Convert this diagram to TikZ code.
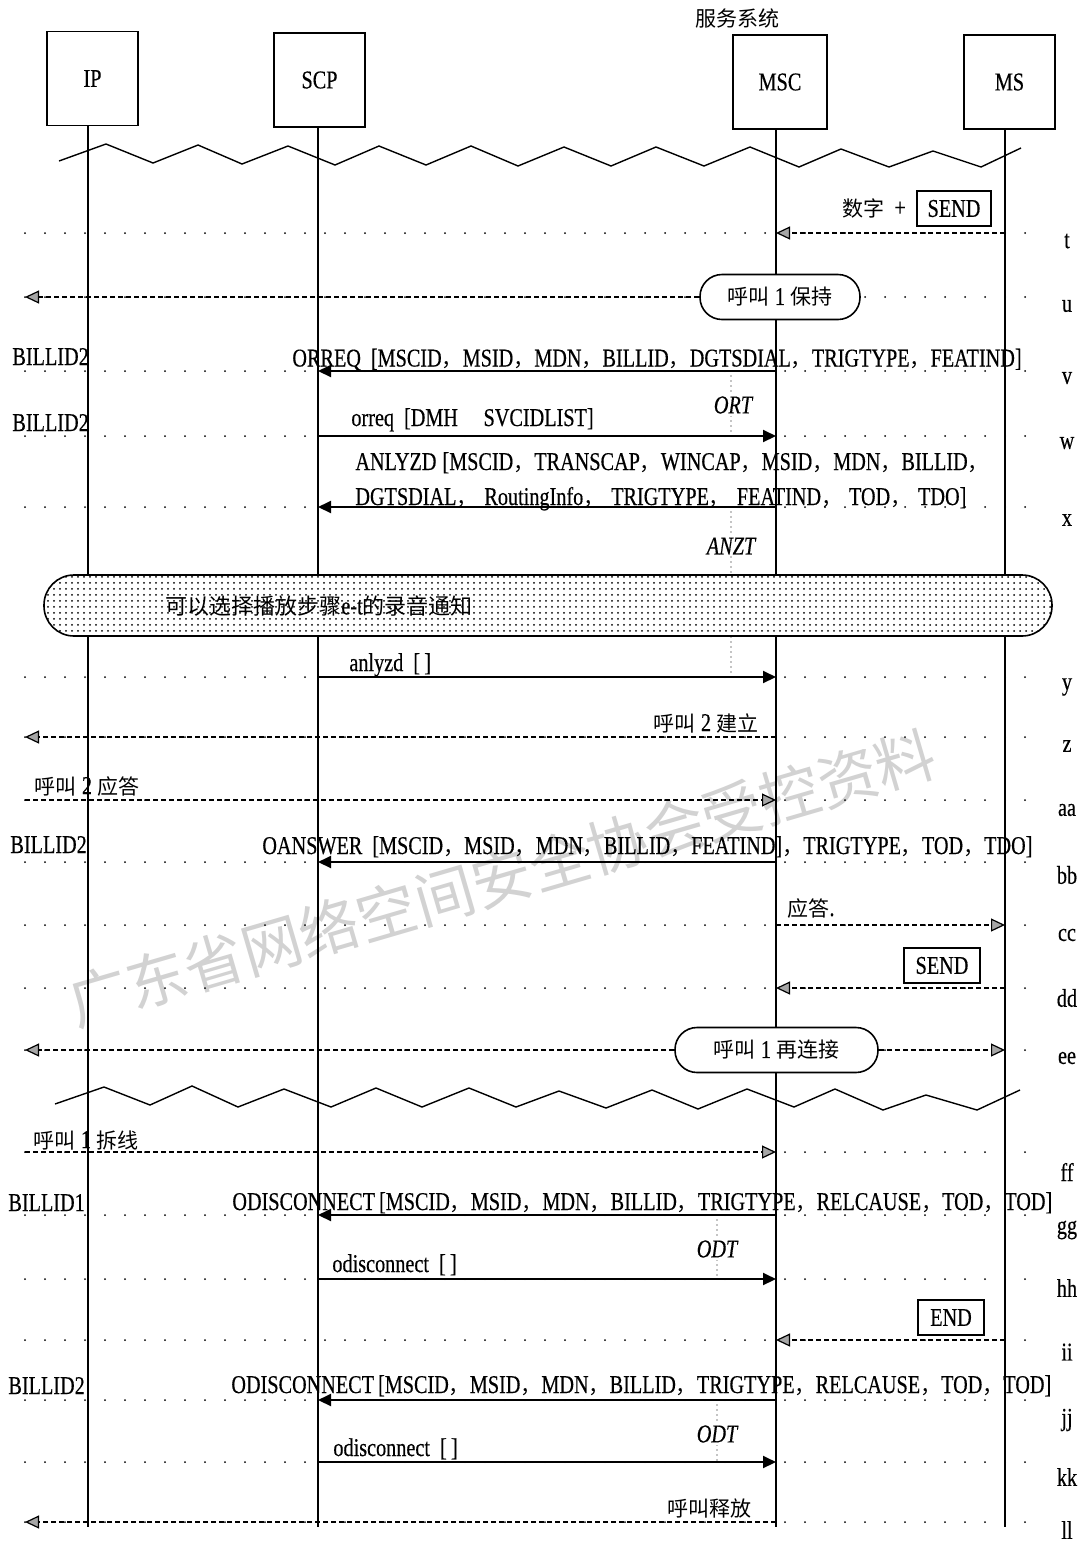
\documentclass[tikz,border=0pt]{standalone}
\usepackage{fontspec}
\setmainfont{Liberation Serif}[FakeStretch=0.79, FakeBold=0.4]
\newfontfamily\cjkfont{Noto Sans CJK SC}
\usetikzlibrary{arrows.meta,patterns}
\newcommand\zh[1]{{\cjkfont\fontsize{10.5}{12}\selectfont #1}}
\newcommand\cm{{\cjkfont\fontsize{10.5}{12}\selectfont ，}}
\newcommand\ob{\hspace{5pt}[}
\begin{document}
\begin{tikzpicture}[x=0.5pt, y=-0.5pt, font=\fontsize{12.8}{14}\selectfont,
  ent/.style={draw, line width=0.8pt, inner sep=0pt, minimum width=45.5pt, minimum height=47pt},
  life/.style={line width=0.7pt},
  rowdots/.style={line width=1pt, line cap=round, dash pattern=on 0pt off 10pt},
  msg/.style={line width=1pt, -{Triangle[length=6.5pt,width=6pt]}},
  dmsg/.style={line width=0.6pt, dash pattern=on 2.5pt off 1.5pt, -{Triangle[length=7pt,width=6.5pt,fill=gray!70]}},
  timer/.style={line width=0.7pt, line cap=round, dash pattern=on 0pt off 2.5pt},
  tl/.style={font=\fontsize{12.8}{14}\selectfont\itshape, fill=white, inner sep=1pt},
  lbl/.style={anchor=base west, inner sep=0pt},
  rl/.style={inner sep=0pt},
  pill/.style={draw, line width=0.8pt, fill=white, rounded corners=11pt, minimum height=22.5pt, inner sep=0pt},
  kbox/.style={draw, line width=0.8pt, fill=white, inner sep=0pt, minimum height=17.5pt},
  zig/.style={line width=0.7pt, line join=miter}]
\useasboundingbox (0,0) rectangle (1082,1543);
% watermark
\node[rotate=16.3, text=gray!35, font=\cjkfont\fontsize{30}{32}\selectfont] (wm) at (502,878) {广东省网络空间安全协会受控资料};
% coordinates
\coordinate (lIP) at (88,0);
\coordinate (lSCP) at (318,0);
\coordinate (lMSC) at (776,0);
\coordinate (lMS) at (1005,0);
\coordinate (L) at (25,0);
\coordinate (R) at (1035,0);
\coordinate (bot) at (0,1527);
\coordinate (tA) at (731,0);
\coordinate (tB) at (717,0);
% rows
\foreach \rn/\yy/\ly in {t/233/241, u/297/306, v/371/378, w/436/443, x/507/520, y/677/687, z/737/746, aa/800/810, bb/862/875, cc/925/935, dd/988/998, ee/1050/1058, ff/1152/1172, gg/1215/1230, hh/1279/1288, ii/1340/1352, jj/1400/1420, kk/1462/1477, ll/1522/1530}{
  \coordinate (r\rn) at (0,\yy);
  \draw[rowdots] (L |- r\rn) -- (R |- r\rn);
  \node[rl] (lab\rn) at (1067,\ly) {\rn};
}
% entities
\node[ent] (IP) at (92.5,78.5) {IP};
\node[ent] (SCP) at (319.5,80) {SCP};
\node[ent, minimum width=47pt] (MSC) at (780,82) {MSC};
\node[ent] (MS) at (1009.5,82) {MS};
\node (svc) at (737,18) {\zh{服务系统}};
\foreach \e in {IP,SCP,MSC,MS} \draw[life] (l\e |- \e.south) -- (l\e |- bot);
% zigzags
\draw[zig] (59,161) -- (106,144) -- (153,163) -- (198,145) -- (242,164) -- (288,146) -- (335,165) -- (379,146) -- (426,165) -- (471,146) -- (518,166) -- (564,147) -- (611,166) -- (656,147) -- (704,166) -- (750,147) -- (799,167) -- (841,149) -- (889,167) -- (933,151) -- (981,167) -- (1021,148);
\draw[zig] (55,1104) -- (104,1087) -- (150,1105) -- (192,1086) -- (238,1107) -- (284,1089) -- (331,1107) -- (376,1088) -- (422,1107) -- (469,1088) -- (516,1107) -- (559,1091) -- (606,1108) -- (652,1090) -- (698,1109) -- (747,1089) -- (794,1107) -- (835,1089) -- (883,1110) -- (926,1095) -- (977,1110) -- (1020,1090);
% timers
\draw[timer] (tA |- rv) -- (tA |- rw);
\node[tl] (ort) at (733,405) {ORT};
\draw[timer] (tA |- rx) -- (tA |- ry);
\node[tl] (anzt) at (731,546) {ANZT};
\draw[timer] (tB |- rgg) -- (tB |- rhh);
\node[tl] (odt1) at (717,1249) {ODT};
\draw[timer] (tB |- rjj) -- (tB |- rkk);
\node[tl] (odt2) at (717,1434) {ODT};
% optional announcement box
\node[draw, line width=0.8pt, rounded corners=15pt, minimum width=504pt, minimum height=30.5pt, preaction={fill=white}, pattern=dots, pattern color=black] (opt) at (548,605.5) {};
\node[inner sep=0pt, anchor=west] (optt) at (165,606) {{\cjkfont\fontsize{11}{12}\selectfont 可以选择播放步骤}e-t{\cjkfont\fontsize{11}{12}\selectfont 的录音通知}};
% pills
\node[pill, minimum width=80pt] (hold) at (780,297) {\zh{呼叫} 1 \zh{保持}};
\node[pill, minimum width=101.5pt] (recon) at (776.5,1050) {\zh{呼叫} 1 \zh{再连接}};
% t
\draw[dmsg] (lMS |- rt) -- (lMSC |- rt);
\node (dig) at (874,208) {\zh{数字}\ \ +};
\node[kbox, minimum width=37pt] (send1) at (954,208.5) {SEND};
% u
\draw[dmsg] (hold.west) -- (L |- hold.west);
% v
\draw[msg] (lMSC |- rv) -- (lSCP |- rv);
\node[lbl] (mv) at (292,366.5) {ORREQ\ob MSCID\cm MSID\cm MDN\cm BILLID\cm DGTSDIAL\cm TRIGTYPE\cm FEATIND]};
\node[lbl] (bv) at (12,365) {BILLID2};
% w
\draw[msg] (lSCP |- rw) -- (lMSC |- rw);
\node[lbl] (mw) at (351,426) {orreq\ob DMH\quad SVCIDLIST]};
\node[lbl] (bw) at (12,431) {BILLID2};
% x
\draw[msg] (lMSC |- rx) -- (lSCP |- rx);
\node[lbl] (mx1) at (355,470) {ANLYZD\hspace{3pt}[MSCID\cm TRANSCAP\cm WINCAP\cm MSID\cm MDN\cm BILLID\cm};
\node[lbl] (mx2) at (355,505) {\makebox[305.5pt][l]{DGTSDIAL\cm\hfill RoutingInfo\cm\hfill TRIGTYPE\cm\hfill FEATIND\cm\hfill TOD\cm\hfill TDO]}};
% y
\draw[msg] (lSCP |- ry) -- (lMSC |- ry);
\node[lbl] (my) at (349,671) {anlyzd\ob\,]};
% z
\draw[dmsg] (lMSC |- rz) -- (L |- rz);
\node (mz) at (706,723) {\zh{呼叫} 2 \zh{建立}};
% aa
\draw[dmsg] (L |- raa) -- (lMSC |- raa);
\node (maa) at (87,786) {\zh{呼叫} 2 \zh{应答}};
% bb
\draw[msg] (lMSC |- rbb) -- (lSCP |- rbb);
\node[lbl] (mbb) at (262,854) {OANSWER\ob MSCID\cm MSID\cm MDN\cm BILLID\cm FEATIND]\cm TRIGTYPE\cm TOD\cm TDO]};
\node[lbl] (bbb) at (10,853) {BILLID2};
% cc
\draw[dmsg] (lMSC |- rcc) -- (lMS |- rcc);
\node (mcc) at (811,908) {\zh{应答}.};
% dd
\draw[dmsg] (lMS |- rdd) -- (lMSC |- rdd);
\node[kbox, minimum width=38pt] (send2) at (942,965.5) {SEND};
% ee
\draw[dmsg] (recon.west) -- (L |- recon.west);
\draw[dmsg] (recon.east) -- (lMS |- recon.east);
% ff
\draw[dmsg] (L |- rff) -- (lMSC |- rff);
\node (mff) at (86,1140) {\zh{呼叫} 1 \zh{拆线}};
% gg
\draw[msg] (lMSC |- rgg) -- (lSCP |- rgg);
\node[lbl] (mgg) at (232,1210) {ODISCONNECT\hspace{2pt}[MSCID\cm MSID\cm MDN\cm BILLID\cm TRIGTYPE\cm RELCAUSE\cm TOD\cm TOD]};
\node[lbl] (bgg) at (8,1211) {BILLID1};
% hh
\draw[msg] (lSCP |- rhh) -- (lMSC |- rhh);
\node[lbl] (mhh) at (332,1272) {odisconnect\ob\,]};
% ii
\draw[dmsg] (lMS |- rii) -- (lMSC |- rii);
\node[kbox, minimum width=33pt] (endb) at (951,1317.5) {END};
% jj
\draw[msg] (lMSC |- rjj) -- (lSCP |- rjj);
\node[lbl] (mjj) at (231,1393) {ODISCONNECT\hspace{2pt}[MSCID\cm MSID\cm MDN\cm BILLID\cm TRIGTYPE\cm RELCAUSE\cm TOD\cm TOD]};
\node[lbl] (bjj) at (8,1394) {BILLID2};
% kk
\draw[msg] (lSCP |- rkk) -- (lMSC |- rkk);
\node[lbl] (mkk) at (333,1456) {odisconnect\ob\,]};
% ll
\draw[dmsg] (lMSC |- rll) -- (L |- rll);
\node (mll) at (709,1509) {\zh{呼叫释放}};
\end{tikzpicture}
\end{document}
